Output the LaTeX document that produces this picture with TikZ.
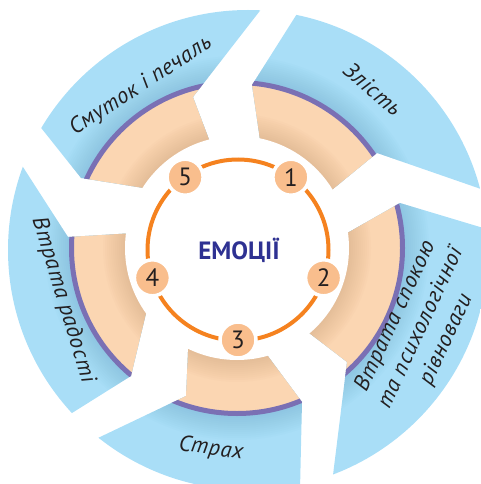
\documentclass[tikz,border=0pt]{standalone}
\usepackage{fontspec}
\setmainfont{PT Sans}
\usetikzlibrary{calc}
\definecolor{petal}{HTML}{A9DEF7}
\definecolor{peach}{HTML}{FBD6B2}
\definecolor{ringpurple}{HTML}{7A70B4}
\definecolor{ringorange}{HTML}{F5821F}
\definecolor{numfill}{HTML}{F9BE8D}
\definecolor{txt}{HTML}{231F20}
\definecolor{titleblue}{HTML}{2E3192}
\definecolor{tanshade}{HTML}{C39A72}
\definecolor{blueshade}{HTML}{4F93BE}
% #1..#3 = inner, kink, outer of first side; #4..#6 = inner, kink, outer of second side
\newcommand\mysector[6]{%
  \fill[petal] (#1) -- (#2) -- ($(#2)!3!(#3)$) -- ($(#5)!3!(#6)$) -- (#5) -- (#4) -- cycle;
  \begin{scope}
    \clip (#1) -- (#2) -- ($(#2)!3!(#3)$) -- ($(#5)!3!(#6)$) -- (#5) -- (#4) -- cycle;
    \foreach \r in {192,190,...,168} \fill[blueshade, opacity=0.022] (C) circle (\r);
    \fill[peach] (C) circle (165.5);
    \foreach \w in {4,8,...,44} \draw[tanshade, opacity=0.035, line width=\w pt] (C) circle (112);
    \draw[ringpurple, line width=5pt] (C) circle (165.5);
  \end{scope}}
\begin{document}
\begin{tikzpicture}[x=1pt,y=-1pt,
  lbl/.style={font=\itshape\fontsize{22.5}{28}\selectfont\addfontfeature{LetterSpace=3},
    text=txt, align=center, inner sep=0pt},
  numcirc/.style={circle, fill=numfill, draw=white, line width=3.5pt, minimum size=36pt,
    inner sep=0pt, text=txt, font=\fontsize{25}{25}\selectfont}]
\useasboundingbox (0,0) rectangle (481,484);
\clip (0,0) rectangle (481,484);
\coordinate (C) at (237,248);
\coordinate (OC) at (248,250);
\coordinate (OR) at (238,250);
% gap 1 (top)
\coordinate (g1lI) at (216,158); \coordinate (g1lK) at (193,97);  \coordinate (g1lO) at (259,12);
\coordinate (g1rI) at (263,160); \coordinate (g1rK) at (252,85);  \coordinate (g1rO) at (295,17);
% gap 2 (right)
\coordinate (g2uI) at (322,198); \coordinate (g2uK) at (377,153); \coordinate (g2uO) at (478,188);
\coordinate (g2dI) at (335,240); \coordinate (g2dK) at (400,203); \coordinate (g2dO) at (490,230);
% gap 3 (bottom right)
\coordinate (g3rI) at (300,326); \coordinate (g3rK) at (347,362); \coordinate (g3rO) at (333,475);
\coordinate (g3lI) at (253,336); \coordinate (g3lK) at (302,402); \coordinate (g3lO) at (300,490);
% gap 4 (bottom left)
\coordinate (g4rI) at (189,330); \coordinate (g4rK) at (186,396); \coordinate (g4rO) at (100,437);
\coordinate (g4lI) at (148,305); \coordinate (g4lK) at (131,376); \coordinate (g4lO) at (72,413);
% gap 5 (left)
\coordinate (g5dI) at (135,233); \coordinate (g5dK) at (68,237);  \coordinate (g5dO) at (23,167);
\coordinate (g5uI) at (150,189); \coordinate (g5uK) at (81,178);  \coordinate (g5uO) at (42,129);

\begin{scope}
  \clip (OC) circle (240);
  \mysector{g1rI}{g1rK}{g1rO}{g2uI}{g2uK}{g2uO}
  \mysector{g2dI}{g2dK}{g2dO}{g3rI}{g3rK}{g3rO}
  \mysector{g3lI}{g3lK}{g3lO}{g4rI}{g4rK}{g4rO}
  \mysector{g4lI}{g4lK}{g4lO}{g5dI}{g5dK}{g5dO}
  \mysector{g5uI}{g5uK}{g5uO}{g1lI}{g1lK}{g1lO}
\end{scope}

\fill[white] (C) circle (112);
\draw[ringorange, line width=4pt] (OR) circle (90.5);

\node[numcirc] (n1) at (290.9,177.2) {1};
\node[numcirc] (n2) at (323.6,277.8) {2};
\node[numcirc] (n3) at (238,340) {3};
\node[numcirc] (n4) at (152.4,277.8) {4};
\node[numcirc] (n5) at (185.1,177.2) {5};

\node[font=\bfseries\fontsize{25}{25}\selectfont, text=titleblue] (title) at (239,250) {ЕМОЦІЇ};

\node[lbl, rotate=33] (l5) at (141,86) {Смуток і печаль};
\node[lbl, rotate=-41] (l1) at (373,89) {Злість};
\node[lbl, rotate=65] (l2) at (421,328) {Втрата спокою\\та психологічної\\рівноваги};
\node[lbl, rotate=-8] (l3) at (211,449) {Страх};
\node[lbl, rotate=-73] (l4) at (63,300) {Втрата радості};
\end{tikzpicture}
\end{document}
